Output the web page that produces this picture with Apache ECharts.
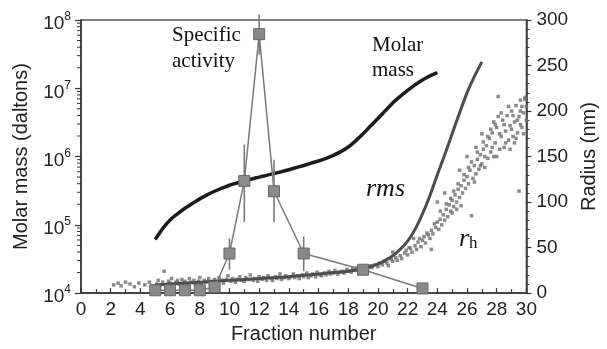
<!DOCTYPE html>
<html>
<head>
<meta charset="utf-8">
<script src="https://cdn.jsdelivr.net/npm/echarts@6/dist/echarts.min.js"></script>
<style>
  html, body { margin: 0; padding: 0; background: #fff; }
  #chart { width: 607px; height: 349px; }
</style>
</head>
<body>
<div id="chart"></div>
<script>
// Specific activity of eluted fractions (log scale, left axis) with error ranges
const activityFraction = [5, 6, 7, 8, 9, 10, 11, 12, 13, 15, 19, 23];
const specificActivity = [1.1e4, 1.1e4, 1.1e4, 1.1e4, 1.22e4, 3.8e4, 4.4e5, 6.2e7, 3.1e5, 3.8e4, 2.2e4, 1.17e4];
const activityLow  = [null, null, null, null, null, 2.2e4, 1.1e5, 3.1e7, 1.1e5, 2.1e4, 2.0e4, null];
const activityHigh = [null, null, null, null, null, 6.3e4, 1.5e6, 1.2e8, 9.0e5, 6.7e4, 2.5e4, null];

// Molar mass (daltons) versus fraction number
const molarFraction = [5, 5.5, 6, 6.5, 7, 7.5, 8, 8.5, 9, 9.5, 10, 10.5, 11, 11.5, 12, 12.5, 13, 13.5, 14, 14.5,
  15, 15.5, 16, 16.5, 17, 17.5, 18, 18.5, 19, 19.5, 20, 20.5, 21, 21.5, 22, 22.5, 23, 23.5, 24];
const molarMass = [6.1e4, 8.8e4, 1.18e5, 1.45e5, 1.75e5, 2.05e5, 2.4e5, 2.75e5, 3.1e5, 3.45e5, 3.8e5, 4.1e5, 4.4e5,
  4.7e5, 5.0e5, 5.3e5, 5.65e5, 6.0e5, 6.4e5, 6.9e5, 7.4e5, 8.0e5, 8.6e5, 9.4e5, 1.04e6, 1.18e6, 1.38e6, 1.7e6,
  2.15e6, 2.8e6, 3.6e6, 4.7e6, 6.1e6, 7.6e6, 9.3e6, 1.12e7, 1.32e7, 1.52e7, 1.7e7];

// rms radius (nm)
const rmsFraction = [5, 6, 7, 8, 9, 10, 11, 12, 13, 14, 15, 16, 17, 18, 19, 19.5, 20, 20.5, 21, 21.5, 22, 22.5,
  23, 23.5, 24, 24.5, 25, 25.5, 26, 26.5, 27];
const rmsRadius = [9, 10, 11, 12, 13, 14, 15, 16, 17, 18, 19.5, 21, 22.5, 24, 27, 29, 32, 36, 41, 48, 57, 70,
  87, 107, 130, 152, 175, 198, 220, 238, 254];

// hydrodynamic radius r_h (nm), individual readings [fraction, radius]
const hydroRadius = [
  [2.2,9],[2.5,11],[2.7,8],[3.0,12],[3.3,10],[3.6,7],[3.9,11],[4.3,9],[4.6,12],[4.8,8],
  [5.1,10],[5.2,14],[5.3,8],[5.5,12],[5.6,24],[5.7,9],[5.9,13],[6.0,11],[6.1,16],[6.2,9],
  [6.4,12],[6.5,14],[6.6,10],[6.8,15],[6.9,11],[7.0,13],[7.2,9],[7.3,16],[7.4,12],[7.6,14],
  [7.7,10],[7.9,13],[8.0,17],[8.1,11],[8.3,14],[8.4,12],[8.6,16],[8.7,10],[8.9,13],[9.0,15],
  [9.2,12],[9.3,17],[9.5,14],[9.6,11],[9.8,15],[9.9,19],[10.1,13],[10.2,16],[10.4,12],[10.5,15],
  [10.7,18],[10.8,14],[11.0,13],[11.1,17],[11.3,15],[11.4,20],[11.6,14],[11.7,16],[11.9,13],[12.0,18],
  [12.2,15],[12.3,17],[12.5,14],[12.6,19],[12.8,16],[12.9,14],[13.1,18],[13.2,16],[13.4,21],[13.5,15],
  [13.7,17],[13.8,19],[14.0,16],[14.1,18],[14.3,21],[14.4,17],[14.6,19],[14.7,16],[14.9,20],[15.0,18],
  [15.2,22],[15.3,17],[15.5,19],[15.6,21],[15.8,18],[15.9,23],[16.1,20],[16.2,19],[16.4,22],[16.5,20],
  [16.7,24],[16.8,21],[17.0,22],[17.1,25],[17.3,21],[17.4,23],[17.6,24],[17.7,22],[17.9,26],[18.0,24],
  [18.2,23],[18.3,27],[18.5,25],[18.6,28],[18.8,26],[19.0,27],[19.1,29],[19.3,27],[19.5,30],[19.6,28],
  [19.8,31],[20.0,29],[20.1,33],[20.3,31],[20.4,35],[20.6,33],[20.7,30],[20.9,37],[21.0,35],[21.2,39],
  [21.3,36],[21.5,41],[21.6,38],[21.8,44],[21.9,47],[22.0,42],[22.2,49],[22.3,45],[22.5,52],[22.6,48],
  [22.7,56],[22.9,51],[23.0,58],[23.1,62],[23.2,55],[23.4,64],[23.5,60],[23.6,69],[23.7,65],[23.9,72],
  [24.0,78],[24.1,70],[24.2,81],[24.3,75],[24.4,86],[24.5,80],[24.6,92],[24.7,84],[24.8,97],[24.9,90],
  [25.0,102],[25.1,95],[25.2,108],[25.3,100],[25.4,114],[25.5,105],[25.6,118],[25.7,110],[25.8,124],[25.9,115],
  [26.0,128],[26.1,120],[26.2,135],[26.3,85],[26.4,126],[26.5,140],[26.6,131],[26.7,147],[26.8,136],[26.9,152],
  [27.0,142],[27.1,158],[27.2,138],[27.3,162],[27.4,148],[27.5,170],[27.6,155],[27.7,176],[27.8,150],[27.9,165],
  [28.0,182],[28.1,216],[28.2,158],[28.3,172],[28.4,190],[28.5,160],[28.6,178],[28.7,195],[28.8,168],[28.9,184],
  [29.0,200],[29.1,172],[29.2,188],[29.3,206],[29.4,176],[29.5,194],[29.6,212],[29.7,182],[29.8,198],[29.9,215],
  [30.0,190],[29.5,112],[23.6,48],[24.5,110],[25.5,135],[26.0,150],[27.0,175],[24.0,100],[28.1,194],[29.6,200],
  [29.9,213],[22.4,60],[21.0,45],[26.6,160],[27.8,188],
  [24.2,90],[24.6,98],[24.9,104],[25.1,112],[25.4,120],[25.6,96],[25.8,130],[26.1,138],[26.3,144],[26.5,122],
  [26.7,155],[26.9,140],[27.1,166],[27.2,150],[27.4,172],[27.6,180],[27.7,160],[27.9,185],[28.2,175],[28.3,198],
  [28.5,185],[28.6,165],[28.8,205],[29.0,180],[29.1,195],[29.3,170],[29.4,190],[29.6,185],[29.7,205],[29.8,175],
  [30.0,205],[28.0,150],[28.9,158],[29.2,165],[25.0,88],[25.3,92],[23.8,76],[23.3,66],[22.8,60],[22.1,50]
];

// Axis ticks
const fractionTickStep = 2;
const radiusTickStep = 50;
const massDecades = [1e4, 1e5, 1e6, 1e7];
const massMinorSteps = [2, 3, 4, 5, 6, 7, 8, 9];
const massMinorTicks = [];
massDecades.forEach(d => massMinorSteps.forEach(m => massMinorTicks.push(d * m)));

const sans = '"Liberation Sans", Arial, sans-serif';
const serif = '"Liberation Serif", "Times New Roman", serif';
const axisColor = '#333';

const chart = echarts.init(document.getElementById('chart'), null, { renderer: 'canvas' });

const option = {
  animation: false,
  backgroundColor: '#fff',
  grid: { left: 81, right: 73, top: 20, bottom: 54, show: true, borderColor: '#555', borderWidth: 1.5 },
  xAxis: {
    type: 'value', min: 0, max: 30, interval: fractionTickStep,
    name: 'Fraction number', nameLocation: 'middle', nameGap: 28,
    nameTextStyle: { fontFamily: sans, fontSize: 20, color: '#222' },
    axisLine: { lineStyle: { color: axisColor, width: 1.5 } },
    axisTick: { inside: true, length: 5, lineStyle: { color: axisColor, width: 1.2 } },
    minorTick: { show: true, splitNumber: 2, length: 4, lineStyle: { color: axisColor, width: 1.2 } },
    axisLabel: { fontFamily: sans, fontSize: 19, color: '#222', margin: 7 },
    splitLine: { show: false }
  },
  yAxis: [
    {
      type: 'log', logBase: 10, min: 1e4, max: 1e8, position: 'left',
      name: 'Molar mass (daltons)', nameLocation: 'middle', nameGap: 50, nameRotate: 90,
      nameTextStyle: { fontFamily: sans, fontSize: 20, color: '#222' },
      axisLine: { show: true, lineStyle: { color: axisColor, width: 1.5 } },
      axisTick: { show: true, length: 6, lineStyle: { color: axisColor, width: 1.2 } },
      axisLabel: {
        fontFamily: sans, color: '#222', margin: 10,
        formatter: v => '{b|10}{s|' + Math.round(Math.log10(v)) + '}',
        rich: {
          b: { fontFamily: sans, fontSize: 19, color: '#222', padding: [8, 0, 0, 0] },
          s: { fontFamily: sans, fontSize: 12, color: '#222', padding: [0, 0, 6, 0] }
        }
      },
      splitLine: { show: false }
    },
    {
      type: 'value', min: 0, max: 300, interval: radiusTickStep, position: 'right',
      name: 'Radius (nm)', nameLocation: 'middle', nameGap: 51, nameRotate: 90,
      nameTextStyle: { fontFamily: sans, fontSize: 20, color: '#222' },
      axisLine: { show: true, lineStyle: { color: axisColor, width: 1.5 } },
      axisTick: { show: true, length: 5, lineStyle: { color: axisColor, width: 1.2 } },
      minorTick: { show: true, splitNumber: 5, length: 3, lineStyle: { color: axisColor, width: 1 } },
      axisLabel: { fontFamily: sans, fontSize: 19, color: '#222', margin: 10 },
      splitLine: { show: false }
    }
  ],
  series: [
    {
      name: 'r_h', type: 'scatter', yAxisIndex: 1, data: hydroRadius,
      symbol: 'rect', symbolSize: 3.5, itemStyle: { color: '#6e6e6e' }, z: 2
    },
    {
      name: 'rms', type: 'line', yAxisIndex: 1, smooth: 0.3, showSymbol: false,
      data: rmsFraction.map((f, i) => [f, rmsRadius[i]]),
      lineStyle: { color: '#4d4d4d', width: 3 }, z: 3
    },
    {
      name: 'Molar mass', type: 'line', yAxisIndex: 0, smooth: 0.3, showSymbol: false,
      data: molarFraction.map((f, i) => [f, molarMass[i]]),
      lineStyle: { color: '#1c1c1c', width: 3.5 }, z: 3
    },
    {
      name: 'Activity range', type: 'custom', yAxisIndex: 0, clip: false, z: 4,
      data: activityFraction.map((f, i) => [f, activityLow[i], activityHigh[i]])
        .filter(d => d[1] !== null),
      renderItem: (params, api) => {
        const lo = api.coord([api.value(0), api.value(1)]);
        const hi = api.coord([api.value(0), api.value(2)]);
        return {
          type: 'line',
          shape: { x1: lo[0], y1: lo[1], x2: hi[0], y2: hi[1] },
          style: { stroke: '#7a7a7a', lineWidth: 1.6 }
        };
      }
    },
    {
      name: 'Specific activity', type: 'line', yAxisIndex: 0,
      data: activityFraction.map((f, i) => [f, specificActivity[i]]),
      symbol: 'rect', symbolSize: 11, showAllSymbol: true,
      itemStyle: { color: '#8a8a8a', borderColor: '#666', borderWidth: 1 },
      lineStyle: { color: '#7a7a7a', width: 1.5 }, z: 5
    },
    {
      name: 'Mass minor ticks', type: 'custom', yAxisIndex: 0, clip: false, silent: true, z: 6,
      data: massMinorTicks.map(v => [0, v]),
      renderItem: (params, api) => {
        const p = api.coord([0, api.value(1)]);
        return {
          type: 'line',
          shape: { x1: p[0] - 4, y1: p[1], x2: p[0], y2: p[1] },
          style: { stroke: axisColor, lineWidth: 1 }
        };
      }
    }
  ],
  graphic: [
    {
      type: 'text', left: 172, top: 22,
      style: { text: 'Specific\nactivity', fontFamily: serif, fontSize: 21, lineHeight: 26, fill: '#111' }
    },
    {
      type: 'text', left: 372, top: 33,
      style: { text: 'Molar\nmass', fontFamily: serif, fontSize: 21, lineHeight: 25, fill: '#111' }
    },
    {
      type: 'text', left: 366, top: 176,
      style: { text: 'rms', fontFamily: serif, fontStyle: 'italic', fontSize: 26, fill: '#111' }
    },
    {
      type: 'text', left: 459, top: 226,
      style: {
        text: '{r|r}{h|h}', fill: '#111',
        rich: {
          r: { fontFamily: serif, fontStyle: 'italic', fontSize: 26 },
          h: { fontFamily: serif, fontSize: 17, padding: [10, 0, 0, 0] }
        }
      }
    }
  ]
};

chart.setOption(option);
</script>
</body>
</html>
